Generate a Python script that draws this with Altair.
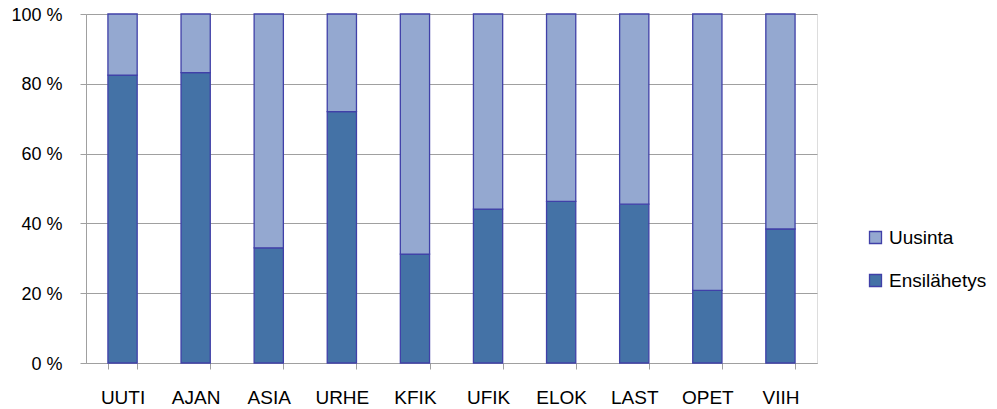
import altair as alt
import pandas as pd

categories = ["UUTI", "AJAN", "ASIA", "URHE", "KFIK", "UFIK", "ELOK", "LAST", "OPET", "VIIH"]
ensilahetys = [82.5, 83.2, 33.0, 72.0, 31.2, 44.1, 46.3, 45.5, 20.8, 38.4]
uusinta = [100 - v for v in ensilahetys]
series = ["Uusinta", "Ensilähetys"]
series_colors = ["#94A8D0", "#4472A6"]
y_ticks = [0, 20, 40, 60, 80, 100]

rows = []
for c, e, u in zip(categories, ensilahetys, uusinta):
    rows.append({"cat": c, "series": "Ensilähetys", "value": e, "ord": 0})
    rows.append({"cat": c, "series": "Uusinta", "value": u, "ord": 1})
df = pd.DataFrame(rows)

FONT = "Liberation Sans"

chart = alt.Chart(df).mark_bar(stroke="#4040A8", strokeWidth=1.3).encode(
    x=alt.X("cat:N", sort=categories, title=None,
            scale=alt.Scale(paddingInner=0.6, paddingOuter=0.3),
            axis=alt.Axis(labelAngle=0, tickBand="extent", tickSize=6, labelPadding=19,
                          labelFontSize=19, labelFont=FONT, labelColor="#000000",
                          domainColor="#A0A0A0", tickColor="#A0A0A0", grid=False)),
    y=alt.Y("value:Q", stack="zero", title=None,
            scale=alt.Scale(domain=[0, 100], nice=False),
            axis=alt.Axis(values=y_ticks, labelExpr="datum.value + ' %'", tickSize=6,
                          labelPadding=18, labelFontSize=18, labelFont=FONT, labelOffset=1,
                          labelColor="#000000", domainColor="#A0A0A0", tickColor="#A0A0A0",
                          gridColor="#A0A0A0", gridWidth=1)),
    color=alt.Color("series:N", scale=alt.Scale(domain=series, range=series_colors),
                    legend=alt.Legend(title=None, orient="none", legendX=780, legendY=214,
                                      symbolType="square", symbolSize=144,
                                      symbolStrokeColor="#4040A8", symbolStrokeWidth=1.3,
                                      labelFontSize=19, labelFont=FONT, labelColor="#000000",
                                      labelOffset=4, rowPadding=23, padding=0)),
    order=alt.Order("ord:Q"),
).properties(
    width=731,
    height=349,
    autosize=alt.AutoSizeParams(type="none"),
    padding={"left": 78, "top": 6, "right": 172, "bottom": 50},
).configure_view(
    fill="#E8ECF4", stroke=None
).configure(background="#FFFFFF")

chart.save("out.html", embed_options={"renderer": "svg", "actions": False})
